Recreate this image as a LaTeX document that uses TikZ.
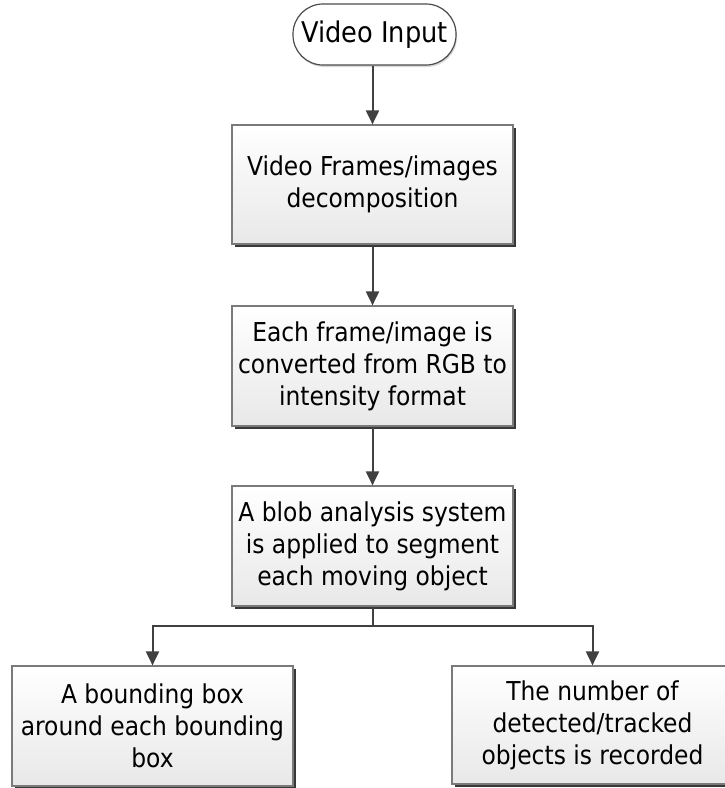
\documentclass[tikz,border=0pt]{standalone}
\usepackage{fontspec}
\setmainfont{DejaVu Sans Condensed}
\usetikzlibrary{shadows,arrows.meta}
\definecolor{arrowgray}{HTML}{404040}
\definecolor{bordergray}{HTML}{7A7A7A}
\begin{document}
\begin{tikzpicture}[x=1pt,y=-1pt,
  procbox/.style={draw=bordergray, line width=1.2pt, top color=white, bottom color=black!9,
    minimum width=281pt, inner sep=0pt, align=center,
    font=\fontsize{26}{32}\selectfont,
    drop shadow={shadow xshift=3pt, shadow yshift=-3pt, fill=black!78, opacity=1}},
  termbox/.style={draw=black!70, line width=1.2pt, fill=white, rounded corners=30pt,
    minimum width=163pt, minimum height=61pt, inner sep=0pt, align=center,
    font=\fontsize{28.5}{32}\selectfont,
    drop shadow={shadow xshift=1pt, shadow yshift=-2pt, fill=black!15, opacity=1}},
  flow/.style={draw=arrowgray, line width=2pt, -{Triangle[length=14pt,width=13pt]}},
  plain/.style={draw=arrowgray, line width=2pt}
]
\useasboundingbox (0,0) rectangle (725,788);
\fill[white] (0,0) rectangle (725,788);

\node[termbox] (term) at (374.5,34.5) {Video Input};
\node[procbox, minimum height=119pt] (b1) at (372.5,184.5) {Video Frames/images\\decomposition};
\node[procbox, minimum height=120pt] (b2) at (372.5,366) {Each frame/image is\\converted from RGB to\\intensity format};
\node[procbox, minimum height=120pt] (b3) at (372.5,546) {A blob analysis system\\is applied to segment\\each moving object};
\node[procbox, minimum height=120pt] (b4) at (152.5,726) {A bounding box\\around each bounding\\box};
\node[procbox, minimum height=118pt] (b5) at (592.5,725) {The number of\\detected/tracked\\objects is recorded};

\coordinate (j) at (372.5,625.5);
\coordinate (jl) at (152.5,625.5);
\coordinate (jr) at (592.5,625.5);

\draw[flow] (term.south -| b1.north) -- (b1.north);
\draw[flow] (b1.south) -- (b2.north);
\draw[flow] (b2.south) -- (b3.north);
\draw[plain] (b3.south) -- (j);
\draw[flow] (j) -- (jl) -- (b4.north);
\draw[flow] (j) -- (jr) -- (b5.north);
\end{tikzpicture}
\end{document}
